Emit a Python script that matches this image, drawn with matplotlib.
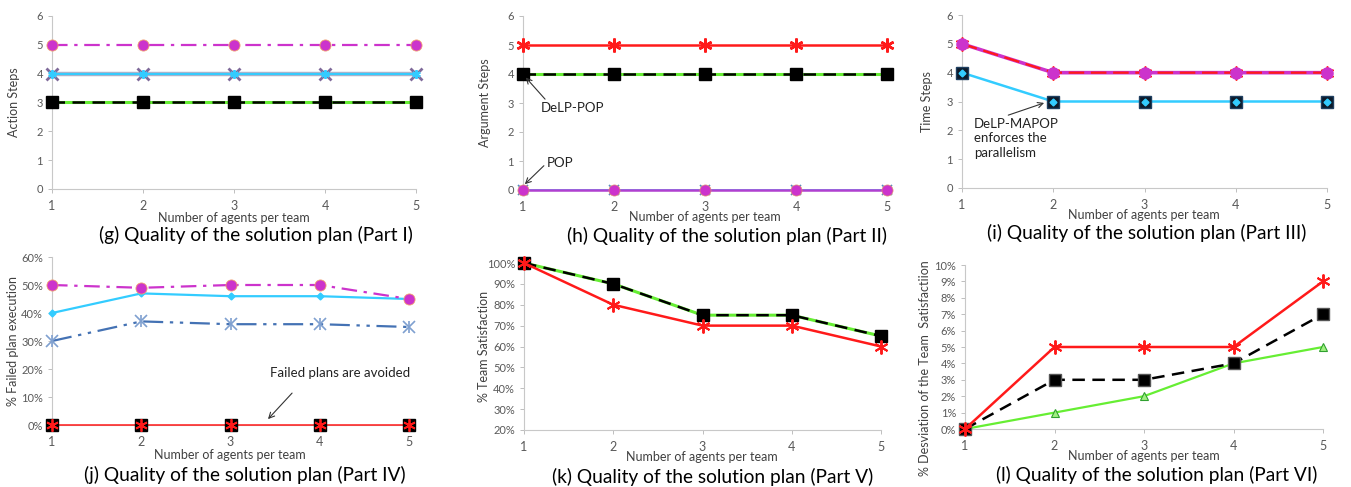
import matplotlib
matplotlib.use("Agg")
import matplotlib.pyplot as plt

plt.rcParams['font.family'] = ['Lato', 'DejaVu Sans']

# data
agents = [1, 2, 3, 4, 5]

# (g) action steps
g_circle = [5, 5, 5, 5, 5]
g_star = [4, 4, 4, 4, 4]
g_square = [3, 3, 3, 3, 3]

# (h) argument steps
h_star = [5, 5, 5, 5, 5]
h_square = [4, 4, 4, 4, 4]
h_circle = [0, 0, 0, 0, 0]

# (i) time steps
i_upper = [5, 4, 4, 4, 4]
i_lower = [4, 3, 3, 3, 3]

# (j) failed plan execution (%)
j_circle = [50, 49, 50, 50, 45]
j_diamond = [40, 47, 46, 46, 45]
j_star = [30, 37, 36, 36, 35]
j_zero = [0, 0, 0, 0, 0]

# (k) team satisfaction (%)
k_square = [100, 90, 75, 75, 65]
k_star = [100, 80, 70, 70, 60]

# (l) deviation of team satisfaction (%)
l_star = [0, 5, 5, 5, 9]
l_square = [0, 3, 3, 4, 7]
l_tri = [0, 1, 2, 4, 5]

MAG = '#CC33CC'
CYAN = '#33CCFF'
GREEN = '#66EE33'
RED = '#FF1A1A'
STEEL = '#4472B4'
GRAY = '#595959'
AST = (6, 2, 0)


def style(ax, ylim, yticks, ylabel, pct=False, lab_x=-0.088, lab_y=0.5):
    ax.set_xlim(1, 5)
    ax.set_ylim(*ylim)
    ax.set_xticks(agents)
    ax.set_yticks(yticks)
    if pct:
        ax.set_yticklabels([f"{t}%" for t in yticks])
    for s in ('top', 'right'):
        ax.spines[s].set_visible(False)
    for s in ('left', 'bottom'):
        ax.spines[s].set_color('#C8C8C8')
        ax.spines[s].set_linewidth(0.8)
    ax.tick_params(axis='both', colors='#BFBFBF', labelcolor=GRAY,
                   labelsize=8, length=3, width=0.7)
    ax.tick_params(axis='x', labelsize=9, pad=5)
    ax.set_ylabel(ylabel, fontsize=9, color='#404040')
    ax.yaxis.set_label_coords(lab_x, lab_y)


def line(ax, y, **kw):
    kw.setdefault('clip_on', False)
    kw.setdefault('zorder', 3)
    ax.plot(agents, y, **kw)


fig = plt.figure(figsize=(13.51, 4.87), dpi=100)
W, H = 1351.0, 487.0


def make_ax(left, right, top, bottom):
    return fig.add_axes([left / W, 1 - bottom / H, (right - left) / W, (bottom - top) / H])


# ---- (g)
ax = make_ax(52, 416, 16, 189)
line(ax, g_square, color=GREEN, lw=2.2)
line(ax, g_square, color='black', lw=1.8, ls=(0, (5, 3)), marker='s', ms=9,
     markerfacecolor='black', markeredgecolor='black')
line(ax, g_star, color='#A8B4CC', lw=3.2, marker='x', ms=9, mew=2,
     markeredgecolor='#7F6A9A')
line(ax, g_star, color=CYAN, lw=1.4, marker=AST, ms=6, mew=1.6,
     markeredgecolor=CYAN)
line(ax, g_circle, color=MAG, lw=1.6, ls=(0, (7, 3, 1.5, 3)), marker='o', ms=8,
     markerfacecolor=MAG, markeredgecolor='#F0A070', mew=0.6)
style(ax, (0, 6), range(0, 7), 'Action Steps', lab_x=-0.088)

# ---- (h)
ax = make_ax(523, 887, 16, 190)
line(ax, h_circle, color=CYAN, lw=1.2, marker='x', ms=7, mew=1.2,
     markeredgecolor='#5A8AC0')
line(ax, h_circle, color='#B040D0', lw=1.8, marker='o', ms=8,
     markerfacecolor=MAG, markeredgecolor='#E09070', mew=0.5)
line(ax, h_square, color=GREEN, lw=2.2)
line(ax, h_square, color='black', lw=1.8, ls=(0, (5, 3)), marker='s', ms=9,
     markerfacecolor='black', markeredgecolor='black')
line(ax, h_star, color=RED, lw=1.8, marker=AST, ms=10, mew=1.8,
     markeredgecolor=RED)
style(ax, (0, 6), range(0, 7), 'Argument Steps', lab_x=-0.088)
ax.annotate('DeLP-POP', xy=(1.03, 3.88), xytext=(1.2, 2.83), fontsize=9.5,
            color='#222222', va='center', ha='left',
            arrowprops=dict(arrowstyle='->', color='#333333', lw=0.8,
                            shrinkA=0, shrinkB=0, relpos=(0.1, 1.0)))
ax.annotate('POP', xy=(1.02, 0.2), xytext=(1.26, 0.93), fontsize=9.5,
            color='#222222', va='center', ha='left',
            arrowprops=dict(arrowstyle='->', color='#333333', lw=0.8,
                            shrinkA=0, shrinkB=0, relpos=(0.0, 0.5)))

# ---- (i)
ax = make_ax(962, 1327, 15, 188)
line(ax, i_upper, color=RED, lw=0, marker=AST, ms=10, mew=1.2,
     markeredgecolor=RED)
line(ax, i_upper, color=MAG, lw=2.6)
line(ax, i_upper, color=RED, lw=1.6, ls=(0, (7, 3)), marker='o', ms=8,
     markerfacecolor=MAG, markeredgecolor=MAG)
line(ax, i_lower, color=CYAN, lw=1.8, marker='s', ms=9,
     markerfacecolor='#0D1A2A', markeredgecolor='#1F3F60')
line(ax, i_lower, color=CYAN, lw=0, marker='D', ms=3.5,
     markerfacecolor=CYAN, markeredgecolor=CYAN)
style(ax, (0, 6), range(0, 7), 'Time Steps', lab_x=-0.079)
ax.annotate('DeLP-MAPOP\nenforces the\nparallelism', xy=(1.9, 2.95),
            xytext=(1.13, 2.43), fontsize=9.5, color='#222222', va='top',
            ha='left', linespacing=1.25,
            arrowprops=dict(arrowstyle='->', color='#333333', lw=0.8,
                            shrinkA=0, shrinkB=0, relpos=(0.38, 1.05)))

# ---- (j)
ax = make_ax(52, 409, 257, 425)
line(ax, j_star, color=STEEL, lw=1.6, ls=(0, (9, 3, 1.5, 3, 1.5, 3)),
     marker='x', ms=8, mew=1.2, markeredgecolor='#7FA0D0')
line(ax, j_star, color=STEEL, lw=0, marker='|', ms=9, mew=1.2,
     markeredgecolor='#7FA0D0')
line(ax, j_diamond, color=CYAN, lw=1.6, marker='D', ms=3.5,
     markerfacecolor=CYAN, markeredgecolor=CYAN)
line(ax, j_circle, color=MAG, lw=1.6, ls=(0, (7, 3, 1.5, 3)), marker='o', ms=8,
     markerfacecolor=MAG, markeredgecolor='#F0A070', mew=0.6)
line(ax, j_zero, color=RED, lw=1.1, marker='s', ms=9,
     markerfacecolor='black', markeredgecolor='black')
line(ax, j_zero, color=RED, lw=0, marker=AST, ms=9, mew=1.3,
     markeredgecolor=RED)
style(ax, (0, 60), range(0, 61, 10), '% Failed plan execution', pct=True,
      lab_x=-0.092)
ax.text(3.44, 18.6, 'Failed plans are avoided', fontsize=9.5, color='#222222',
        ha='left', va='center')
ax.annotate('', xy=(3.42, 2.1), xytext=(3.69, 11.4),
            arrowprops=dict(arrowstyle='->', color='#333333', lw=0.8,
                            shrinkA=0, shrinkB=0))

# ---- (k)
ax = make_ax(524, 881, 263, 430)
line(ax, k_square, color=GREEN, lw=2.2)
line(ax, k_square, color='black', lw=1.8, ls=(0, (5, 3)), marker='s', ms=9,
     markerfacecolor='black', markeredgecolor='black')
line(ax, k_star, color=RED, lw=1.8, marker=AST, ms=10, mew=1.4,
     markeredgecolor=RED)
style(ax, (20, 100), range(20, 101, 10), '% Team Satisfaction', pct=True,
      lab_x=-0.095)

# ---- (l)
ax = make_ax(965, 1323, 265, 429)
line(ax, l_tri, color=GREEN, lw=1.6, marker='^', ms=6,
     markerfacecolor='#A0F080', markeredgecolor='#30A030', mew=0.8)
line(ax, l_square, color='black', lw=1.8, ls=(0, (5, 3)), marker='s', ms=9,
     markerfacecolor='black', markeredgecolor='#555555')
line(ax, l_star, color=RED, lw=1.8, marker=AST, ms=10, mew=1.4,
     markeredgecolor=RED)
style(ax, (0, 10), range(0, 11), '% Desviation of the Team  Satisfactiion',
      pct=True, lab_x=-0.095, lab_y=0.37)

# x labels and panel captions
xlabels = [(234, 218), (705, 217), (1144, 215), (230, 455), (702, 457), (1144, 456)]
for cx, cy in xlabels:
    fig.text(cx / W, 1 - cy / H, 'Number of agents per team', fontsize=9,
             color='#404040', ha='center', va='center')

captions = [
    ('(g) Quality of the solution plan (Part I)', 256, 235),
    ('(h) Quality of the solution plan (Part II)', 727, 236),
    ('(i) Quality of the solution plan (Part III)', 1147, 233),
    ('(j) Quality of the solution plan (Part IV)', 245, 475),
    ('(k) Quality of the solution plan (Part V)', 713, 477),
    ('(l) Quality of the solution plan (Part VI)', 1157, 475),
]
for txt, cx, cy in captions:
    fig.text(cx / W, 1 - cy / H, txt, fontsize=13.8, color='black',
             ha='center', va='center')

fig.savefig('out.png', dpi=100)
